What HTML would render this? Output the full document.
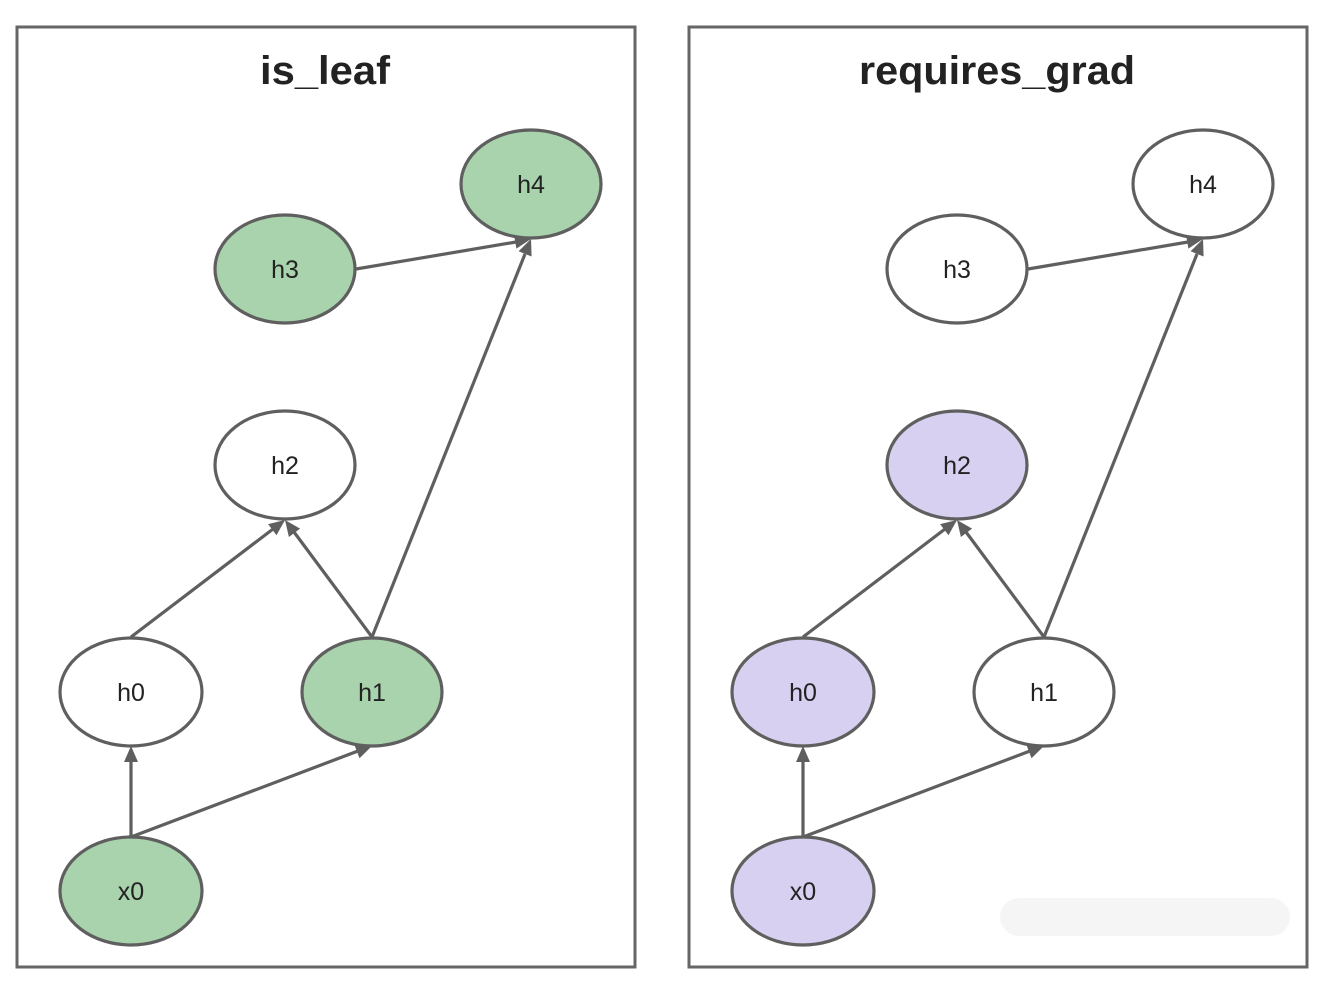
<!DOCTYPE html>
<html><head><meta charset="utf-8"><style>
html,body{margin:0;padding:0;background:#fff;width:1326px;height:988px;overflow:hidden}
svg{display:block}
text{font-family:"Liberation Sans",sans-serif}
</style></head><body>
<svg width="1326" height="988" viewBox="0 0 1326 988" xmlns="http://www.w3.org/2000/svg">
<rect x="17" y="27" width="618" height="940" fill="#fff" stroke="#666" stroke-width="3"/>
<rect x="689" y="27" width="618" height="940" fill="#fff" stroke="#666" stroke-width="3"/>
<text x="325" y="84" text-anchor="middle" font-size="40" font-weight="bold" fill="#222" textLength="130" lengthAdjust="spacingAndGlyphs">is_leaf</text>
<text x="997" y="84" text-anchor="middle" font-size="40" font-weight="bold" fill="#222" textLength="276" lengthAdjust="spacingAndGlyphs">requires_grad</text>
<g id="E">
<g stroke="#5f5f5f" stroke-width="3.2" fill="none">
<line x1="356" y1="269" x2="516" y2="242"/>
<line x1="372" y1="637" x2="525" y2="254"/>
<line x1="131" y1="637" x2="273" y2="529"/>
<line x1="372" y1="637" x2="294" y2="532"/>
<line x1="131" y1="837" x2="131" y2="760"/>
<line x1="131" y1="837" x2="358" y2="751"/>
</g>
<g fill="#5f5f5f">
<polygon points="531,239 516.4,248.6 514.0,234.8"/>
<polygon points="531,239 531.6,256.5 518.6,251.3"/>
<polygon points="285,520 276.5,535.3 268.1,524.1"/>
<polygon points="285,520 300.1,528.6 288.9,537.0"/>
<polygon points="131,746 124,762 138,762"/>
<polygon points="372,746 359.5,758.2 354.5,745.0"/>
</g>
</g>
<g transform="translate(672,0)">
<g stroke="#5f5f5f" stroke-width="3.2" fill="none">
<line x1="356" y1="269" x2="516" y2="242"/>
<line x1="372" y1="637" x2="525" y2="254"/>
<line x1="131" y1="637" x2="273" y2="529"/>
<line x1="372" y1="637" x2="294" y2="532"/>
<line x1="131" y1="837" x2="131" y2="760"/>
<line x1="131" y1="837" x2="358" y2="751"/>
</g>
<g fill="#5f5f5f">
<polygon points="531,239 516.4,248.6 514.0,234.8"/>
<polygon points="531,239 531.6,256.5 518.6,251.3"/>
<polygon points="285,520 276.5,535.3 268.1,524.1"/>
<polygon points="285,520 300.1,528.6 288.9,537.0"/>
<polygon points="131,746 124,762 138,762"/>
<polygon points="372,746 359.5,758.2 354.5,745.0"/>
</g>
</g>
<g stroke="#5f5f5f" stroke-width="3.2">
<ellipse cx="531" cy="184" rx="70" ry="54" fill="#a9d3ad"/>
<ellipse cx="285" cy="269" rx="70" ry="54" fill="#a9d3ad"/>
<ellipse cx="285" cy="465" rx="70" ry="54" fill="#fff"/>
<ellipse cx="131" cy="692" rx="71" ry="54" fill="#fff"/>
<ellipse cx="372" cy="692" rx="70" ry="54" fill="#a9d3ad"/>
<ellipse cx="131" cy="891" rx="71" ry="54" fill="#a9d3ad"/>
<ellipse cx="1203" cy="184" rx="70" ry="54" fill="#fff"/>
<ellipse cx="957" cy="269" rx="70" ry="54" fill="#fff"/>
<ellipse cx="957" cy="465" rx="70" ry="54" fill="#d8d0f0"/>
<ellipse cx="803" cy="692" rx="71" ry="54" fill="#d8d0f0"/>
<ellipse cx="1044" cy="692" rx="70" ry="54" fill="#fff"/>
<ellipse cx="803" cy="891" rx="71" ry="54" fill="#d8d0f0"/>
</g>
<g font-size="25" fill="#222" text-anchor="middle">
<text x="531" y="193">h4</text><text x="285" y="278">h3</text><text x="285" y="474">h2</text>
<text x="131" y="701">h0</text><text x="372" y="701">h1</text><text x="131" y="900">x0</text>
<text x="1203" y="193">h4</text><text x="957" y="278">h3</text><text x="957" y="474">h2</text>
<text x="803" y="701">h0</text><text x="1044" y="701">h1</text><text x="803" y="900">x0</text>
</g>
<rect x="1000" y="898" width="290" height="38" rx="19" fill="#f3f3f3" opacity="0.8"/>
</svg>
</body></html>
